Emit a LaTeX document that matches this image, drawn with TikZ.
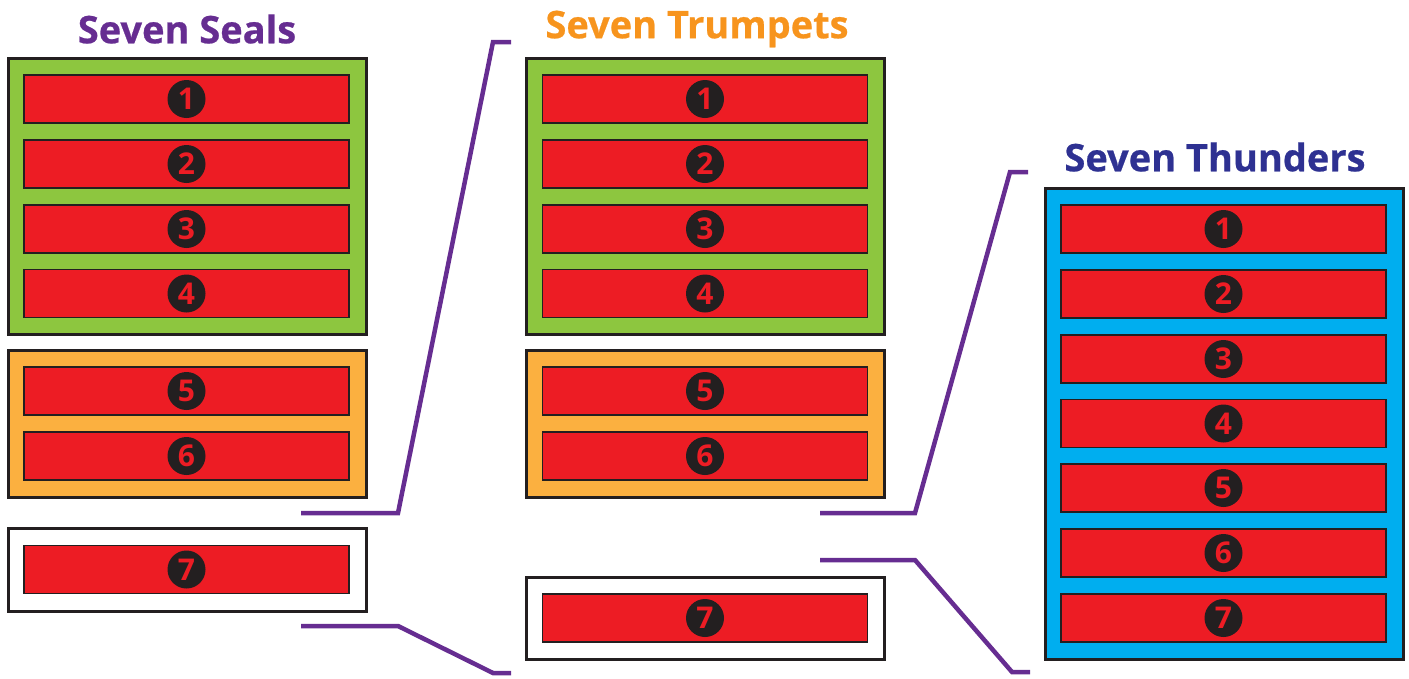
\documentclass[tikz,border=0pt]{standalone}
\usepackage{fontspec}
\setmainfont{Open Sans}
\newfontfamily\titlefont{Open Sans Bold}[FakeBold=0.6]
\definecolor{sgreen}{HTML}{8DC63F}
\definecolor{sorange}{HTML}{FBB040}
\definecolor{sred}{HTML}{ED1C24}
\definecolor{sblue}{HTML}{00AEEF}
\definecolor{sdark}{HTML}{231F20}
\definecolor{spurple}{HTML}{662D91}
\definecolor{tpurple}{HTML}{662D91}
\definecolor{torange}{HTML}{F7941D}
\definecolor{tblue}{HTML}{2E3192}
\tikzset{
  frame/.style={draw=sdark, line width=3pt, inner sep=0pt, minimum width=358pt},
  bar/.style={draw=sdark, fill=sred, line width=1.2pt, inner sep=0pt, minimum width=325pt, minimum height=48pt},
  badge/.style={circle, fill=sdark, inner sep=0pt, minimum size=38pt, text=sred, font=\fontsize{30}{30}\selectfont\bfseries},
  title/.style={font=\fontsize{38}{38}\selectfont\titlefont, inner sep=0pt},
  link/.style={draw=spurple, line width=4.5pt}
}
\begin{document}
\begin{tikzpicture}[x=1pt,y=-1pt]
\useasboundingbox (0,0) rectangle (1409,678);
% Seals
\node[title, text=tpurple] (tseals) at (187,29) {Seven Seals};
\node[frame, fill=sgreen, minimum height=276pt] (sg) at (187,196) {};
\node[frame, fill=sorange, minimum height=147pt] (so) at (187,423.5) {};
\node[frame, fill=white, minimum height=83pt] (sw) at (187,569.5) {};
\foreach \n/\y in {1/99,2/164,3/229,4/293.5,5/391,6/456,7/569.5}{
  \node[bar] (sb\n) at (186.5,\y) {};
  \node[badge] at (sb\n) {\n};
}
% Trumpets
\node[title, text=torange] (ttrump) at (697,29) {Seven Trumpets};
\node[frame, fill=sgreen, minimum height=276pt] (tg) at (705.5,196) {};
\node[frame, fill=sorange, minimum height=147pt] (to) at (705.5,423.5) {};
\node[frame, fill=white, minimum height=82pt] (tw) at (705.5,618) {};
\foreach \n/\y in {1/99,2/164,3/229,4/293.5,5/391,6/456,7/618}{
  \node[bar] (tb\n) at (705,\y) {};
  \node[badge] at (tb\n) {\n};
}
% Thunders
\node[title, text=tblue] (tthund) at (1215,157) {Seven Thunders};
\node[frame, fill=sblue, minimum height=471pt] (hb) at (1224,423.5) {};
\foreach \n/\y in {1/229,2/294,3/359,4/423.5,5/488,6/553,7/618}{
  \node[bar] (hb\n) at (1223.5,\y) {};
  \node[badge] at (hb\n) {\n};
}
% links
\coordinate (a1) at (301,513); \coordinate (a2) at (398,513); \coordinate (a3) at (493,42); \coordinate (a4) at (511,42);
\coordinate (b1) at (301,626); \coordinate (b2) at (398,626); \coordinate (b3) at (493,673); \coordinate (b4) at (511,673);
\coordinate (c1) at (820,513); \coordinate (c2) at (915,513); \coordinate (c3) at (1010,172); \coordinate (c4) at (1028,172);
\coordinate (d1) at (820,560); \coordinate (d2) at (915,560); \coordinate (d3) at (1012,672); \coordinate (d4) at (1030,672);
\draw[link] (a1) -- (a2) -- (a3) -- (a4);
\draw[link] (b1) -- (b2) -- (b3) -- (b4);
\draw[link] (c1) -- (c2) -- (c3) -- (c4);
\draw[link] (d1) -- (d2) -- (d3) -- (d4);
\end{tikzpicture}
\end{document}
